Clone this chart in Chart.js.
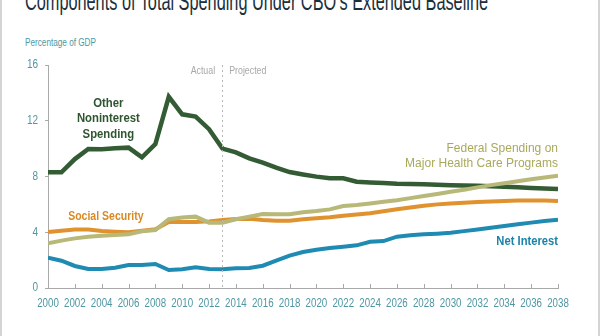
<!DOCTYPE html>
<html>
<head>
<meta charset="utf-8">
<script src="https://cdn.jsdelivr.net/npm/chart.js@4.4.0/dist/chart.umd.min.js"></script>
<style>
  html, body { margin: 0; padding: 0; background: #fff; }
  body { width: 600px; height: 336px; overflow: hidden; position: relative; }
  #frame { position: absolute; left: 0; top: 0; width: 596px; height: 336px;
    border-left: 2px solid #d4d4d4; border-right: 2px solid #d4d4d4; }
  #titulo { position: absolute; left: 25px; top: -12px; font-family: "Liberation Sans", sans-serif;
    font-size: 26px; line-height: 26px; color: #1b2f3d; white-space: nowrap; transform-origin: left top; }
  #unidade { position: absolute; left: 25px; top: 35px; font-family: "Liberation Sans", sans-serif;
    font-size: 11px; line-height: 14px; color: #4f97a2; white-space: nowrap; transform-origin: left top; }
  #wrap { position: absolute; left: 0; top: 0; width: 600px; height: 336px; }
  canvas { display: block; }
</style>
</head>
<body>
<div id="frame"></div>
<div id="titulo">Components of Total Spending Under CBO’s Extended Baseline</div>
<div id="unidade">Percentage of GDP</div>
<div id="wrap"><canvas id="grafico" width="600" height="336"></canvas></div>
<script>
// anos 2000-2038
const anos = [2000, 2001, 2002, 2003, 2004, 2005, 2006, 2007, 2008, 2009,
  2010, 2011, 2012, 2013, 2014, 2015, 2016, 2017, 2018, 2019,
  2020, 2021, 2022, 2023, 2024, 2025, 2026, 2027, 2028, 2029,
  2030, 2031, 2032, 2033, 2034, 2035, 2036, 2037, 2038];

const outrosGastos = [8.3, 8.3, 9.25, 9.97, 9.95, 10.02, 10.07, 9.37, 10.33, 13.72,
  12.46, 12.3, 11.4, 10.0, 9.73, 9.3, 9.0, 8.63, 8.32, 8.15,
  7.99, 7.87, 7.87, 7.63, 7.57, 7.53, 7.48, 7.46, 7.44, 7.41,
  7.38, 7.36, 7.33, 7.3, 7.26, 7.22, 7.18, 7.14, 7.1];

const saude = [3.2, 3.4, 3.56, 3.68, 3.75, 3.8, 3.85, 4.07, 4.16, 4.93,
  5.05, 5.12, 4.69, 4.69, 4.93, 5.12, 5.31, 5.3, 5.3, 5.43,
  5.52, 5.64, 5.88, 5.95, 6.07, 6.19, 6.3, 6.45, 6.6, 6.75,
  6.9, 7.05, 7.22, 7.38, 7.52, 7.66, 7.8, 7.93, 8.06];

const previdencia = [4.02, 4.11, 4.19, 4.19, 4.09, 4.04, 4.0, 4.11, 4.21, 4.73,
  4.73, 4.73, 4.78, 4.88, 4.95, 4.97, 4.88, 4.83, 4.83, 4.93,
  5.0, 5.07, 5.19, 5.28, 5.36, 5.5, 5.65, 5.78, 5.9, 6.0,
  6.07, 6.12, 6.17, 6.21, 6.25, 6.27, 6.28, 6.27, 6.25];

const juros = [2.18, 1.96, 1.58, 1.36, 1.36, 1.46, 1.65, 1.65, 1.72, 1.29,
  1.34, 1.48, 1.36, 1.34, 1.41, 1.43, 1.6, 1.96, 2.32, 2.58,
  2.75, 2.87, 2.96, 3.06, 3.32, 3.37, 3.68, 3.78, 3.85, 3.9,
  3.97, 4.08, 4.2, 4.32, 4.45, 4.57, 4.69, 4.81, 4.9];

const anoDivisao = 2013;

// rotulos das series (aperto = compressao horizontal da fonte)
const rotulos = [
  { linhas: ["Other", "Noninterest", "Spending"], ano: 2004.5, valor: 13.27, alinha: "center", cor: "#2f5530", negrito: true, tam: 13.5, aperto: 0.84 },
  { linhas: ["Social Security"], ano: 2001.5, valor: 5.16, alinha: "left", cor: "#d98a22", negrito: true, tam: 13, aperto: 0.81 },
  { linhas: ["Federal Spending on", "Major Health Care Programs"], ano: 2038, valor: 10.04, alinha: "right", cor: "#a9a95c", negrito: false, tam: 13.5, aperto: 0.89 },
  { linhas: ["Net Interest"], ano: 2038, valor: 3.37, alinha: "right", cor: "#1b82a8", negrito: true, tam: 13.5, aperto: 0.83 },
  { linhas: ["Actual"], ano: 2012.45, valor: 15.57, alinha: "right", cor: "#a8a8a8", negrito: false, tam: 11, aperto: 0.8 },
  { linhas: ["Projected"], ano: 2013.5, valor: 15.57, alinha: "left", cor: "#a8a8a8", negrito: false, tam: 11, aperto: 0.8 }
];

function pontos(valores) {
  return anos.map((a, i) => ({ x: a, y: valores[i] }));
}

// ajusta largura dos textos html
function ajustar(id, largura) {
  var el = document.getElementById(id);
  var w = el.getBoundingClientRect().width;
  el.style.transform = "scaleX(" + (largura / w) + ")";
}
ajustar("titulo", 463);
ajustar("unidade", 71);

function textoApertado(ctx, texto, px, py, alinha, aperto) {
  ctx.save();
  ctx.translate(px, py);
  ctx.scale(aperto, 1);
  ctx.textAlign = alinha;
  ctx.fillText(texto, 0, 0);
  ctx.restore();
}

const pluginExtras = {
  id: "extras",
  afterDatasetsDraw(chart) {
    const ctx = chart.ctx;
    const x = chart.scales.x;
    const y = chart.scales.y;
    // linha pontilhada actual/projected
    const xd = Math.round(x.getPixelForValue(anoDivisao)) + 0.5;
    ctx.save();
    ctx.strokeStyle = "#b8b8b8";
    ctx.lineWidth = 1;
    ctx.setLineDash([2, 3]);
    ctx.beginPath();
    ctx.moveTo(xd, y.getPixelForValue(16));
    ctx.lineTo(xd, y.getPixelForValue(0));
    ctx.stroke();
    ctx.restore();

    // marcas do eixo x (para dentro)
    ctx.save();
    ctx.strokeStyle = "#a9a9a9";
    ctx.lineWidth = 1;
    x.ticks.forEach(t => {
      if (t.value === x.min) return;
      const px = Math.round(x.getPixelForValue(t.value)) + 0.5;
      ctx.beginPath();
      ctx.moveTo(px, y.bottom);
      ctx.lineTo(px, y.bottom - 4);
      ctx.stroke();
    });
    ctx.restore();

    // rotulos dos eixos
    ctx.save();
    ctx.fillStyle = "#4f97a2";
    ctx.font = "12.5px 'Liberation Sans', sans-serif";
    ctx.textBaseline = "middle";
    x.ticks.forEach(t => {
      textoApertado(ctx, String(t.value), x.getPixelForValue(t.value), y.bottom + 16, "center", 0.78);
    });
    y.ticks.forEach(t => {
      textoApertado(ctx, String(t.value), x.left - 10, y.getPixelForValue(t.value), "right", 0.8);
    });
    ctx.restore();

    // rotulos das series
    rotulos.forEach(r => {
      ctx.save();
      ctx.fillStyle = r.cor;
      ctx.textBaseline = "middle";
      ctx.font = (r.negrito ? "bold " : "") + r.tam + "px 'Liberation Sans', sans-serif";
      const px = x.getPixelForValue(r.ano);
      const py = y.getPixelForValue(r.valor);
      r.linhas.forEach((t, i) => textoApertado(ctx, t, px, py + i * 15.5, r.alinha, r.aperto));
      ctx.restore();
    });
  }
};

function serie(nome, valores, cor, largura) {
  return {
    label: nome,
    data: pontos(valores),
    borderColor: cor,
    borderWidth: largura,
    pointRadius: 0,
    tension: 0,
    fill: false
  };
}

const ctx = document.getElementById("grafico").getContext("2d");
const grafico = new Chart(ctx, {
  type: "line",
  data: {
    datasets: [
      serie("Federal Spending on Major Health Care Programs", saude, "#b8b878", 4),
      serie("Social Security", previdencia, "#e0922e", 4),
      serie("Net Interest", juros, "#1f8bb3", 4),
      serie("Other Noninterest Spending", outrosGastos, "#345c34", 4.5)
    ]
  },
  options: {
    responsive: false,
    animation: false,
    devicePixelRatio: 1,
    layout: { padding: { top: 65, right: 42, left: 0, bottom: 0 } },
    plugins: { legend: { display: false }, tooltip: { enabled: false } },
    scales: {
      x: {
        type: "linear",
        min: 2000,
        max: 2038,
        afterFit: s => { s.height = 48; },
        grid: { display: false, drawTicks: false },
        border: { display: true, color: "#a9a9a9", width: 1 },
        ticks: { display: false, stepSize: 2, autoSkip: false }
      },
      y: {
        min: 0,
        max: 16,
        afterFit: s => { s.width = 48; },
        grid: { drawOnChartArea: false, drawTicks: true, tickLength: 3, color: "#a9a9a9" },
        border: { display: true, color: "#a9a9a9", width: 1 },
        ticks: { display: false, stepSize: 4 }
      }
    }
  },
  plugins: [pluginExtras]
});
</script>
</body>
</html>
